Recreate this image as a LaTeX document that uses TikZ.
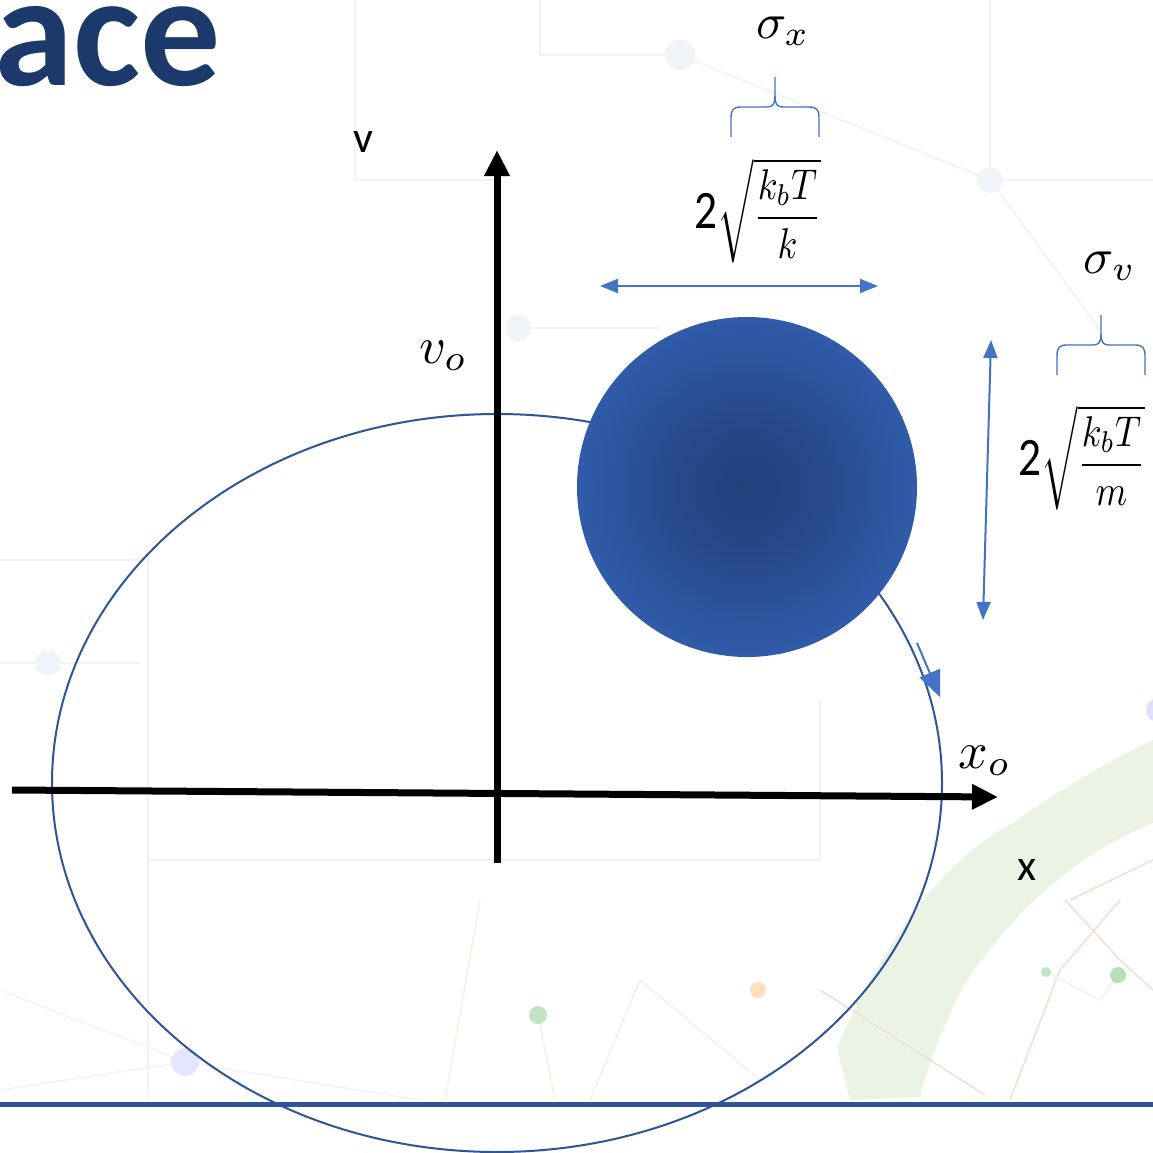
\documentclass[tikz,border=0pt]{standalone}
\usepackage{fontspec}
\usetikzlibrary{arrows.meta}
\newfontfamily\carlito{Carlito}
\definecolor{titleblue}{HTML}{1B3A6B}
\definecolor{orbitblue}{HTML}{2F5597}
\definecolor{accblue}{HTML}{4472C4}
\definecolor{ballin}{HTML}{21407B}
\definecolor{ballinner}{HTML}{26488A}
\definecolor{ballmid}{HTML}{2D56A0}
\definecolor{ballout}{HTML}{3464B7}
\definecolor{bgline}{HTML}{F3F3F3}
\definecolor{bgdot}{HTML}{F0F3F7}
\definecolor{bggreen}{HTML}{EBF3E4}
\definecolor{bgred}{HTML}{F3DDD5}
\definecolor{bglgreen}{HTML}{EEF3E6}
\pgfdeclareradialshading{ballshade}{\pgfpoint{0bp}{0bp}}{color(0bp)=(ballin); color(10bp)=(ballinner); color(21bp)=(ballmid); color(31bp)=(ballout); color(50bp)=(ballout)}
\tikzset{
  axisline/.style={line width=7pt, -{Triangle[length=26pt,width=24pt]}},
  orbit/.style={draw=orbitblue, line width=2pt},
  sizearrow/.style={accblue, line width=2pt, {Triangle[length=18pt,width=14pt]}-{Triangle[length=18pt,width=14pt]}},
  dirarrow/.style={accblue, line width=2pt, -{Triangle[length=26pt,width=22pt]}},
  bracepath/.style={draw=accblue, line width=1.4pt},
  mathlbl/.style={inner sep=0pt},
  bgl/.style={draw=bgline, line width=2pt},
}
\begin{document}
\begin{tikzpicture}[x=1pt,y=-1pt]
\useasboundingbox (0,0) rectangle (1153,1153);
\fill[white] (0,0) rectangle (1153,1153);
% faint background decoration
\draw[bgl] (148,860) -- (148,1100);
\draw[bgl] (0,560) -- (148,560) -- (148,860) -- (820,860) -- (820,700);
\draw[bgl] (355,0) -- (355,180) -- (500,180);
\draw[bgl] (540,0) -- (540,55) -- (680,55);
\draw[bgl] (680,55) -- (990,180) -- (1100,330);
\draw[bgl] (990,0) -- (990,180) -- (1153,180);
\draw[bgl] (518,328) -- (660,328);
\draw[bgl] (0,663) -- (48,663) -- (140,663);
\fill[bgdot] (680,55) circle (15);
\fill[bgdot] (990,180) circle (13);
\fill[bgdot] (518,328) circle (13);
\fill[bgdot] (48,663) circle (13);
\fill[bggreen] (837,1047) .. controls (880,950) and (940,860) .. (1013,823) .. controls (1060,790) and (1110,760) .. (1153,740)
  -- (1153,823) .. controls (1090,850) and (1030,890) .. (967,980) .. controls (945,1020) and (930,1060) .. (920,1097) -- (850,1100) -- cycle;
\draw[bgred, line width=1.5pt] (820,990) -- (985,1095);
\draw[bgred, line width=1.5pt] (1070,900) -- (1153,860);
\draw[bgred, line width=1.5pt] (1065,900) -- (1120,960) -- (1153,990);
\draw[bgred, line width=1.5pt] (1010,1100) -- (1060,970) -- (1120,900);
\draw[bgline, line width=1.5pt] (0,990) -- (185,1062) -- (0,1090);
\draw[bgline, line width=1.5pt] (185,1062) -- (420,1100);
\draw[bglgreen, line width=1.5pt] (445,1100) -- (480,900);
\draw[bglgreen, line width=1.5pt] (590,1100) -- (640,980) -- (760,1080);
\draw[bglgreen, line width=1.5pt] (538,1015) -- (555,1100);
\draw[bglgreen, line width=1.5pt] (1046,972) -- (1100,1000) -- (1118,975);
\fill[blue!10] (185,1062) circle (14);
\fill[green!40!gray!35] (538,1015) circle (9);
\fill[orange!25] (758,990) circle (8);
\fill[green!40!gray!35] (1046,972) circle (5);
\fill[green!40!gray!40] (1118,975) circle (8);
\fill[blue!12] (1158,710) circle (12);
% title fragment
\node[anchor=base west, inner sep=0pt, text=titleblue, font=\carlito\bfseries\fontsize{160}{165}\selectfont] (title) at (-6,86) {ace};
% orbit ellipse
\draw[orbit] (497,783) ellipse [x radius=445, y radius=369];
% axes
\coordinate (xl) at (12,790);
\coordinate (xr) at (998,797);
\coordinate (vb) at (497,863);
\coordinate (vt) at (497,150);
\draw[axisline] (xl) -- (xr);
\draw[axisline] (vb) -- (vt);
% the blob
\node[circle, minimum size=340pt, inner sep=0pt, shading=ballshade] (ball) at (747,487) {};
% direction arrow on orbit
\coordinate (d1) at (917,643);
\coordinate (d2) at (940,697);
\draw[dirarrow] (d1) -- (d2);
% size arrows
\coordinate (hx1) at (600,286);
\coordinate (hx2) at (878,286);
\draw[sizearrow] (hx1) -- (hx2);
\coordinate (hv1) at (991,340);
\coordinate (hv2) at (983,620);
\draw[sizearrow] (hv1) -- (hv2);
% braces
\draw[bracepath] (731,137) -- (731,118) .. controls (731,110) and (733,107) .. (741,107) -- (767,107) .. controls (773,107) and (775,104) .. (775,96) -- (775,77);
\draw[bracepath] (775,96) .. controls (775,104) and (777,107) .. (783,107) -- (809,107) .. controls (817,107) and (819,110) .. (819,118) -- (819,137);
\draw[bracepath] (1057,375) -- (1057,356) .. controls (1057,348) and (1059,345) .. (1067,345) -- (1093,345) .. controls (1099,345) and (1101,342) .. (1101,334) -- (1101,315);
\draw[bracepath] (1101,334) .. controls (1101,342) and (1103,345) .. (1109,345) -- (1135,345) .. controls (1143,345) and (1145,348) .. (1145,356) -- (1145,375);
% labels
\node[anchor=base, inner sep=0pt, font=\carlito\fontsize{44}{50}\selectfont] (vlab) at (363,153) {v};
\node[anchor=base, inner sep=0pt, font=\carlito\fontsize{44}{50}\selectfont] (xlab) at (1027,880) {x};
\node[mathlbl, anchor=base west, scale=5.2] (vo) at (418,363) {$v_o$};
\node[mathlbl, anchor=base west, scale=5.2] (xo) at (957,768) {$x_o$};
\node[mathlbl, scale=5] (sx) at (783,31) {$\sigma_x$};
\node[mathlbl, scale=5] (sv) at (1110,266) {$\sigma_v$};
\node[mathlbl, xscale=3.6, yscale=4.3] (fx) at (758,211) {{\carlito\fontsize{12.6}{14}\selectfont 2}$\sqrt{\displaystyle\frac{k_bT}{k}}$};
\node[mathlbl, xscale=3.6, yscale=4.3] (fv) at (1082,458) {{\carlito\fontsize{12.6}{14}\selectfont 2}$\sqrt{\displaystyle\frac{k_bT}{m}}$};
% bottom rule
\coordinate (bl) at (0,1104);
\coordinate (br) at (1153,1104);
\draw[orbitblue, line width=5pt] (bl) -- (br);
\end{tikzpicture}
\end{document}
